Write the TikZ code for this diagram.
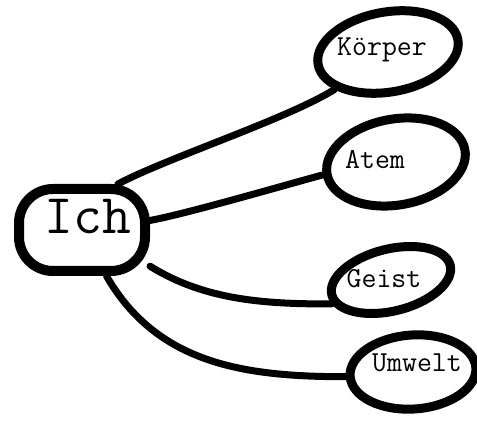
\documentclass[tikz,border=0pt]{standalone}
\usepackage{fontspec}
\usetikzlibrary{shapes.geometric,backgrounds}
\begin{document}
\begin{tikzpicture}[x=1pt,y=1pt,
  blob/.style={draw=black,fill=white,line width=9pt,ellipse,inner sep=0pt},
  lbl/.style={font=\ttfamily\fontsize{29}{29}\selectfont,inner sep=0pt},
  conn/.style={line width=7pt,line cap=round}]
\useasboundingbox (0,0) rectangle (477,421);
% center node
\node[draw=black,fill=white,line width=10pt,rounded corners=34pt,minimum width=126pt,minimum height=82pt,inner sep=0pt] (ich) at (82,191) {};
\node[font=\ttfamily\fontsize{56}{56}\selectfont,inner sep=0pt] (ichtxt) at (88,204) {Ich};
% outer nodes
\node[blob,minimum width=142pt,minimum height=80pt,rotate=10] (koerper) at (388,369) {};
\node[lbl] (koerpertxt) at (382,371) {Körper};
\node[blob,minimum width=140pt,minimum height=86pt,rotate=10] (atem) at (396,259) {};
\node[lbl] (atemtxt) at (375,261) {Atem};
\node[blob,minimum width=122pt,minimum height=62pt,rotate=14] (geist) at (391,141) {};
\node[lbl] (geisttxt) at (384,142) {Geist};
\node[blob,minimum width=126pt,minimum height=74pt,rotate=4] (umwelt) at (413,49) {};
\node[lbl] (umwelttxt) at (417,58) {Umwelt};
% connectors
\begin{pgfonlayer}{background}
\draw[conn] (ich.52) to[out=28,in=212,looseness=0.6] (koerper.205);
\draw[conn] (ich.8) to[out=10,in=195,looseness=0.5] (atem.180);
\draw[conn] (ich.-28) to[out=-32,in=180,looseness=0.9] (geist.188);
\draw[conn] (ich.-62) to[out=-60,in=180] (umwelt.180);
\end{pgfonlayer}
\end{tikzpicture}
\end{document}
